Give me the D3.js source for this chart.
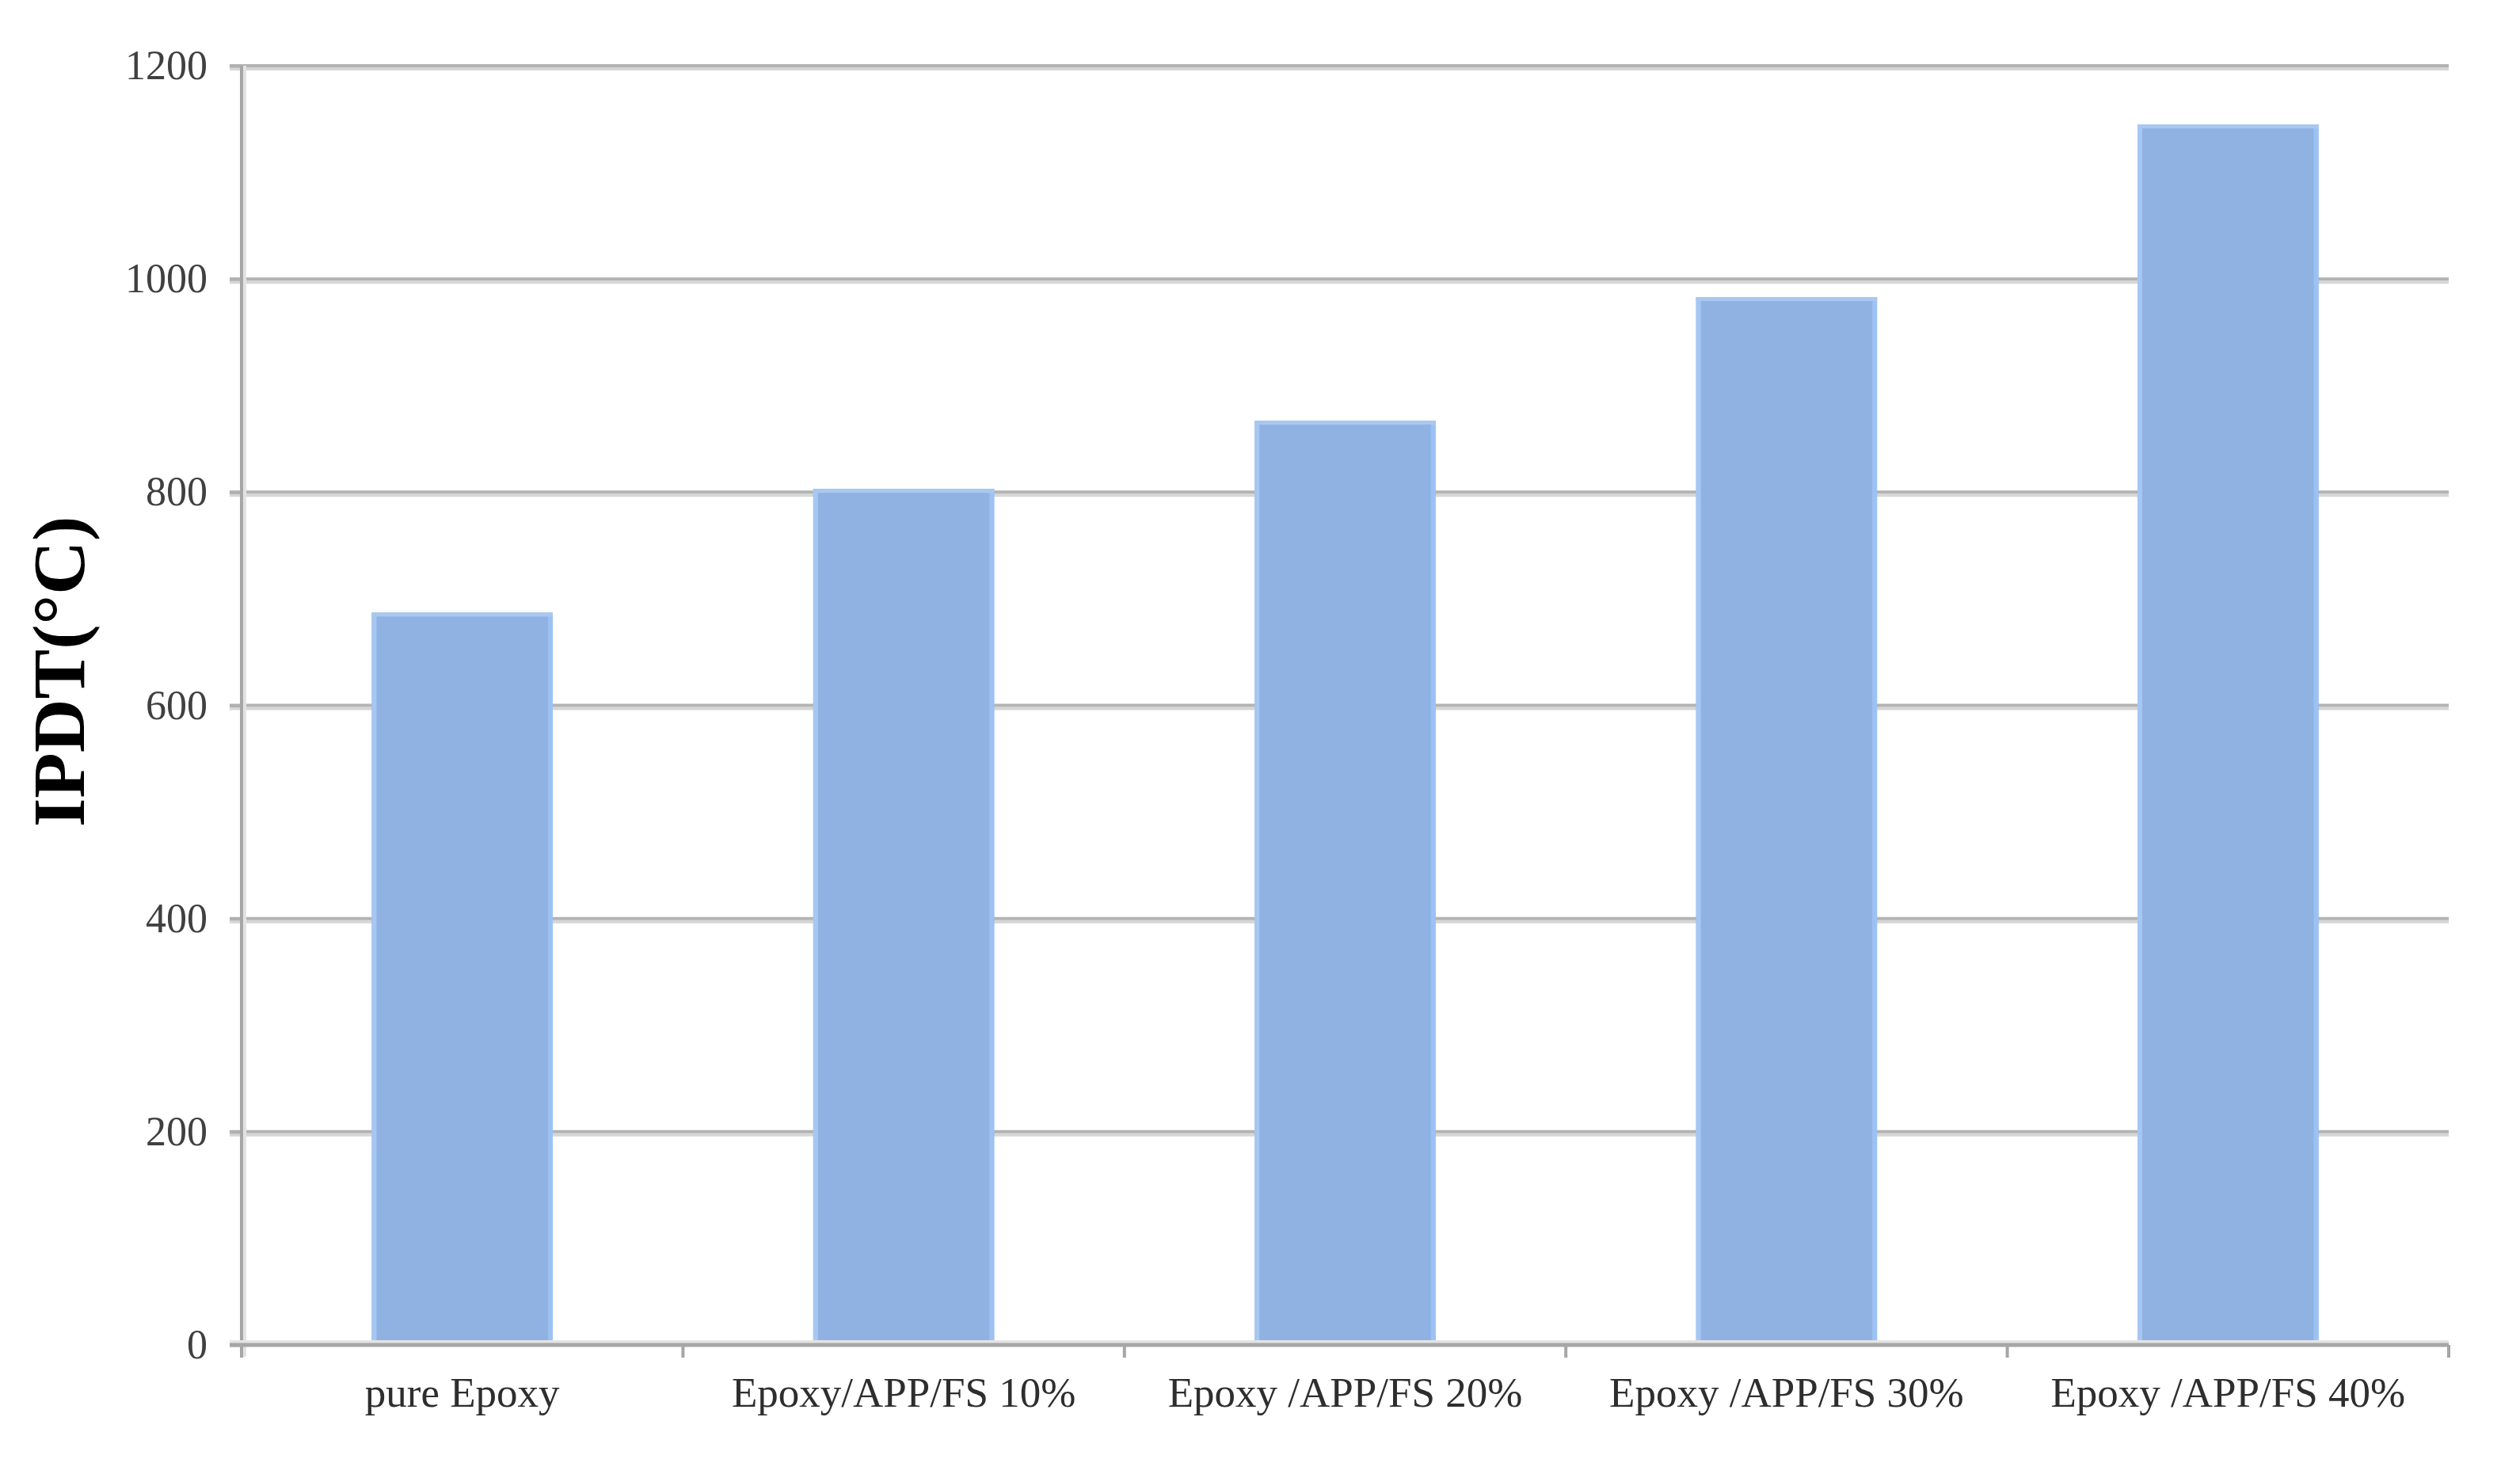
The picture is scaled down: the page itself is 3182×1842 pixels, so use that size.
<!DOCTYPE html>
<html>
<head>
<meta charset="utf-8">
<script src="https://cdn.jsdelivr.net/npm/d3@7"></script>
<style>
  html, body { margin: 0; padding: 0; background: #ffffff; }
  svg { display: block; }
</style>
</head>
<body>
<svg id="chart" width="3182" height="1842"></svg>
<script>
const categories = ["pure Epoxy", "Epoxy/APP/FS 10%", "Epoxy /APP/FS 20%", "Epoxy /APP/FS 30%", "Epoxy /APP/FS 40%"];
const ipdtValues = [687, 803, 867, 983, 1145];
const yTicks = [0, 200, 400, 600, 800, 1000, 1200];
const yTitle = "IPDT(°C)";

const W = 3182, H = 1842;
const margin = { left: 305, right: 90, top: 83, bottom: 144 };
const svg = d3.select("#chart");

const x = d3.scaleBand()
  .domain(categories)
  .range([margin.left, W - margin.right])
  .paddingInner(0.59)
  .paddingOuter(0.295);

const y = d3.scaleLinear()
  .domain([0, 1200])
  .range([H - margin.bottom, margin.top]);

// gridlines (with light shadow beneath)
const grid = svg.append("g");
yTicks.filter(t => t > 0).forEach(t => {
  grid.append("line")
    .attr("x1", margin.left - 15).attr("x2", W - margin.right)
    .attr("y1", y(t) + 4).attr("y2", y(t) + 4)
    .attr("stroke", "#d6d6d6").attr("stroke-width", 4);
  grid.append("line")
    .attr("x1", margin.left - 15).attr("x2", W - margin.right)
    .attr("y1", y(t)).attr("y2", y(t))
    .attr("stroke", "#b3b3b3").attr("stroke-width", 4);
});

// bars
const bars = svg.append("g");
bars.selectAll("rect.bar")
  .data(categories)
  .join("rect")
  .attr("class", "bar")
  .attr("x", d => x(d))
  .attr("width", x.bandwidth())
  .attr("y", (d, i) => y(ipdtValues[i]))
  .attr("height", (d, i) => y(0) - y(ipdtValues[i]))
  .attr("fill", "#8fb2e2");
bars.selectAll("rect.edgeL")
  .data(categories)
  .join("rect")
  .attr("class", "edgeL")
  .attr("x", d => x(d))
  .attr("width", 6)
  .attr("y", (d, i) => y(ipdtValues[i]))
  .attr("height", (d, i) => y(0) - y(ipdtValues[i]))
  .attr("fill", "#a7c7f2");
bars.selectAll("rect.edgeR")
  .data(categories)
  .join("rect")
  .attr("class", "edgeR")
  .attr("x", d => x(d) + x.bandwidth() - 6)
  .attr("width", 6)
  .attr("y", (d, i) => y(ipdtValues[i]))
  .attr("height", (d, i) => y(0) - y(ipdtValues[i]))
  .attr("fill", "#9cc2f4");
bars.selectAll("rect.edgeT")
  .data(categories)
  .join("rect")
  .attr("class", "edgeT")
  .attr("x", d => x(d))
  .attr("width", x.bandwidth())
  .attr("y", (d, i) => y(ipdtValues[i]))
  .attr("height", 5)
  .attr("fill", "#a9c8f0");

// y axis
const yAxis = svg.append("g")
  .attr("transform", `translate(${margin.left},0)`)
  .call(d3.axisLeft(y).tickValues(yTicks).tickSize(15).tickPadding(28).tickFormat(d3.format("d")));
yAxis.select(".domain").remove();
yAxis.append("line")
  .attr("x1", 4).attr("x2", 4)
  .attr("y1", margin.top).attr("y2", y(0) + 15)
  .attr("stroke", "#e2e2e2").attr("stroke-width", 4);
yAxis.append("line")
  .attr("x1", 0).attr("x2", 0)
  .attr("y1", margin.top).attr("y2", y(0) + 15)
  .attr("stroke", "#a6a6a6").attr("stroke-width", 4);
yAxis.selectAll(".tick line").attr("stroke", "#b0b0b0").attr("stroke-width", 4);
yAxis.selectAll(".tick text")
  .attr("font-family", "'Liberation Serif', 'Times New Roman', serif")
  .attr("font-size", 52)
  .attr("fill", "#404040");

// x axis
const xAxisG = svg.append("g").attr("transform", `translate(0,${y(0)})`);
xAxisG.append("line")
  .attr("x1", margin.left - 15).attr("x2", W - margin.right)
  .attr("y1", -4).attr("y2", -4)
  .attr("stroke", "#e4e4e4").attr("stroke-width", 4);
xAxisG.append("line")
  .attr("x1", margin.left - 15).attr("x2", W - margin.right)
  .attr("y1", 0).attr("y2", 0)
  .attr("stroke", "#a6a6a6").attr("stroke-width", 5);
const boundaries = d3.range(categories.length + 1).map(i => margin.left + i * x.step());
xAxisG.selectAll("line.xt")
  .data(boundaries)
  .join("line")
  .attr("class", "xt")
  .attr("x1", d => d).attr("x2", d => d)
  .attr("y1", 0).attr("y2", 16)
  .attr("stroke", "#a6a6a6").attr("stroke-width", 4);
xAxisG.selectAll("text.xl")
  .data(categories)
  .join("text")
  .attr("class", "xl")
  .attr("x", d => x(d) + x.bandwidth() / 2)
  .attr("y", 78)
  .attr("text-anchor", "middle")
  .attr("font-family", "'Liberation Serif', 'Times New Roman', serif")
  .attr("font-size", 53)
  .attr("fill", "#2e2e2e")
  .text(d => d);

// y title
svg.append("text")
  .attr("transform", `translate(106, 848) rotate(-90)`)
  .attr("text-anchor", "middle")
  .attr("font-family", "'Liberation Serif', 'Times New Roman', serif")
  .attr("font-weight", "bold")
  .attr("font-size", 94)
  .attr("fill", "#000000")
  .text(yTitle);
</script>
</body>
</html>
